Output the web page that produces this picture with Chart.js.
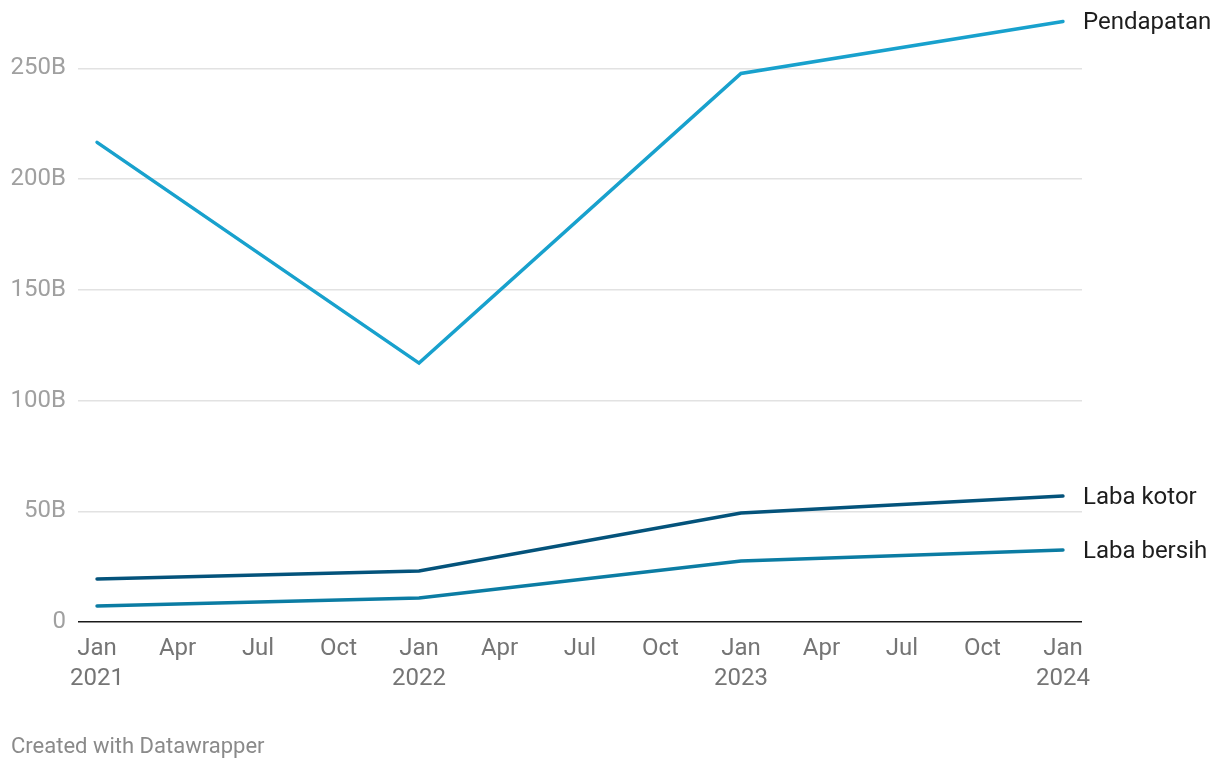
<!DOCTYPE html>
<html>
<head>
<meta charset="utf-8">
<script src="https://cdn.jsdelivr.net/npm/chart.js@4/dist/chart.umd.min.js"></script>
<style>
  html, body { margin: 0; padding: 0; background: #fff; }
  #wrap { position: relative; width: 1220px; height: 768px; }
  #footer { position: absolute; left: 11px; top: 733px; font: 22px Roboto, sans-serif; color: #8a8a8a; }
</style>
</head>
<body>
<div id="wrap">
  <canvas id="lineChart" width="1220" height="768"></canvas>
  <div id="footer">Created with Datawrapper</div>
</div>
<script>
// data (month index from Jan 2021, values in billions)
const months = [0, 12, 24, 36];
const pendapatan = [216.6, 116.9, 247.7, 271.2];
const labaKotor = [19.4, 23.0, 49.2, 56.9];
const labaBersih = [7.2, 10.8, 27.5, 32.5];
const seriesNames = ['Pendapatan', 'Laba kotor', 'Laba bersih'];
const monthNames = ['Jan', 'Apr', 'Jul', 'Oct'];
const xTicks = [0, 3, 6, 9, 12, 15, 18, 21, 24, 27, 30, 33, 36];
const yTicks = [0, 50, 100, 150, 200, 250];

const colors = ['#18a1cd', '#04537b', '#0b7ca3'];

function pts(vals) {
    return vals.map((v, i) => ({ x: months[i], y: v }));
}

// labels at the end of each line
const endLabels = {
    id: 'endLabels',
    afterDatasetsDraw(chart) {
        const c = chart.ctx;
        c.save();
        c.font = '24px Roboto';
        c.fillStyle = '#1d1d1d';
        c.textBaseline = 'middle';
        chart.data.datasets.forEach((ds, i) => {
            const meta = chart.getDatasetMeta(i);
            const last = meta.data[meta.data.length - 1];
            c.fillText(ds.label, last.x + 20, last.y + 2);
        });
        c.restore();
    }
};

new Chart(document.getElementById('lineChart'), {
    type: 'line',
    data: {
        datasets: [
            { label: seriesNames[0], data: pts(pendapatan), borderColor: colors[0] },
            { label: seriesNames[1], data: pts(labaKotor), borderColor: colors[1] },
            { label: seriesNames[2], data: pts(labaBersih), borderColor: colors[2] }
        ]
    },
    options: {
        responsive: false,
        animation: false,
        layout: { padding: { top: 13, right: 138, bottom: 0, left: 0 } },
        elements: {
            line: { borderWidth: 3.5, tension: 0, borderCapStyle: 'round' },
            point: { radius: 0 }
        },
        plugins: { legend: { display: false }, tooltip: { enabled: false } },
        scales: {
            x: {
                type: 'linear',
                min: -0.71,
                max: 36.71,
                afterBuildTicks(axis) { axis.ticks = xTicks.map(v => ({ value: v })); },
                afterFit(axis) { axis.height = 146; },
                grid: { display: false },
                border: { display: false },
                ticks: {
                    color: '#757575',
                    font: { family: 'Roboto', size: 24, lineHeight: 1.25 },
                    padding: 4,
                    maxRotation: 0,
                    autoSkip: false,
                    callback(v) {
                        const name = monthNames[(v / 3) % 4];
                        return v % 12 === 0 ? [name, String(2021 + v / 12)] : name;
                    }
                }
            },
            y: {
                min: 0,
                max: 275,
                afterBuildTicks(axis) { axis.ticks = yTicks.map(v => ({ value: v })); },
                afterFit(axis) {
                    axis.width = 78;
                    axis.paddingTop = 0;
                    axis.paddingBottom = 0;
                },
                grid: {
                    drawTicks: false,
                    lineWidth: 1.5,
                    color: ctx => ctx.tick.value === 0 ? '#1a1a1a' : '#e2e2e2'
                },
                border: { display: false },
                ticks: {
                    color: '#a0a0a0',
                    font: { family: 'Roboto', size: 24 },
                    padding: 12,
                    callback: v => v === 0 ? '0' : v + 'B'
                }
            }
        }
    },
    plugins: [endLabels]
});
</script>
</body>
</html>
